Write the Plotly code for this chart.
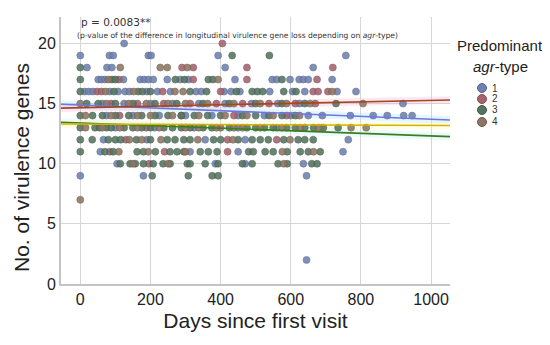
import plotly.graph_objects as go

# ---------------- data ----------------
# days since first visit, grouped by number of virulence genes, per predominant agr-type
agr1_points = {
    20: [125],
    19: [0, 83, 94, 194, 202, 393, 757],
    18: [19, 76, 90, 413, 664],
    17: [51, 60, 70, 123, 171, 182, 194, 208, 248, 285, 308, 441, 547, 560, 598, 624, 636, 650, 718],
    16: [12, 24, 36, 84, 108, 128, 140, 190, 220, 257, 330, 345, 410, 430, 455, 540, 605, 640, 732, 786],
    15: [63, 125, 200, 263, 338, 413, 488, 563, 625, 920],
    14: [75, 150, 225, 300, 375, 450, 525, 600, 650, 690, 770, 835, 875, 922, 946],
    13: [100, 212, 325, 450, 560],
    12: [66, 190, 356, 470, 764],
    11: [57, 313, 450, 749],
    10: [105, 385, 470, 636],
    9: [0, 180, 645],
    2: [645],
}
agr2_points = {
    20: [405],
    18: [290, 322, 475, 720],
    17: [110, 322, 475, 675],
    16: [48, 60, 235, 400, 664, 678, 706],
    15: [88, 163, 238, 313, 388, 463, 538, 613, 670],
    14: [112, 288, 438, 588],
    13: [188, 400],
    12: [130, 420, 560],
    11: [84, 240, 420],
    10: [196],
}
agr3_points = {
    19: [433, 539],
    18: [0],
    17: [0, 90, 100, 271, 297, 365, 378, 575],
    16: [0, 96, 165, 177, 200, 313, 360, 445, 490, 505, 520, 580, 615],
    15: [18, 51, 100, 150, 213, 275, 350, 425, 500, 575, 640, 729],
    14: [0, 35, 63, 100, 138, 175, 213, 250, 288, 325, 363, 400, 463, 500, 538, 575, 613],
    13: [0, 42, 55, 75, 88, 125, 150, 175, 200, 238, 263, 288, 313, 350, 375, 425, 475, 500,
         525, 550, 588, 613, 640, 665, 693, 735],
    12: [0, 34, 80, 100, 115, 160, 200, 248, 270, 295, 313, 380, 400, 450, 490, 513, 536, 580,
         621, 640, 664],
    11: [0, 70, 94, 162, 180, 214, 256, 276, 295, 342, 365, 390, 480, 493, 527, 550, 590, 627,
         650, 684],
    10: [114, 142, 157, 180, 208, 236, 256, 305, 313, 356, 393, 462, 490, 564, 590, 660, 675],
    9: [205, 308, 376, 393],
}
agr4_points = {
    18: [114, 228, 248, 305],
    17: [80, 393],
    16: [72, 152, 270, 293, 718],
    15: [0, 75, 138, 188, 250, 300, 363, 438, 513, 588, 655, 806],
    14: [15, 88, 163, 200, 263, 338, 413, 475, 550, 625],
    13: [15, 63, 113, 163, 225, 300, 338, 388, 438, 463, 513, 575, 627, 680, 772, 815],
    12: [140, 175, 230, 335, 435, 598],
    11: [110, 194, 300, 576, 665],
    10: [150, 250, 580],
    7: [0],
}

# fitted regression lines (value at the start and end of the day range)
fit_days = [-55, 1054]
agr1_fit = [14.95, 13.64]
agr2_fit = [14.62, 15.30]
agr3_fit = [13.45, 12.25]
agr4_fit = [13.30, 13.18]
band_halfwidth = [0.32, 0.32]

type_labels = ["1", "2", "3", "4"]
x_ticks = [0, 200, 400, 600, 800, 1000]
y_ticks = [0, 5, 10, 15, 20]

# ---------------- styling ----------------
OFF = 8  # browser default body margin
W, H = 550 - OFF, 345 - OFF
ML, MR, MT = 61 - OFF, 550 - 450, 17 - OFF
MB = H - (284 - OFF)
marker_colors = ["#6f80ad", "#a4636e", "#55745f", "#8d7663"]
marker_edges = ["#55668f", "#864a55", "#3f5a48", "#6e5a49"]
line_colors = ["#7374e4", "#9c4b22", "#3a7d1c", "#d2b400"]
band_colors = ["rgba(150,228,250,0.28)", "rgba(255,175,210,0.30)",
               "rgba(175,240,240,0.25)", "rgba(255,248,170,0.30)"]

all_points = [agr1_points, agr2_points, agr3_points, agr4_points]
all_fits = [agr1_fit, agr2_fit, agr3_fit, agr4_fit]

fig = go.Figure()

# confidence bands
for fit, bc in zip(all_fits, band_colors):
    upper = [v + h for v, h in zip(fit, band_halfwidth)]
    lower = [v - h for v, h in zip(fit, band_halfwidth)]
    fig.add_trace(go.Scatter(x=fit_days + fit_days[::-1], y=upper + lower[::-1],
                             fill="toself", fillcolor=bc, line=dict(width=0),
                             mode="lines", hoverinfo="skip", showlegend=False))

# scatter points
for pts, mc, me, lab in zip(all_points, marker_colors, marker_edges, type_labels):
    xs, ys = [], []
    for g, days in pts.items():
        for d in days:
            xs.append(d)
            ys.append(g)
    fig.add_trace(go.Scatter(x=xs, y=ys, mode="markers", name=lab,
                             marker=dict(size=7, color=mc, opacity=0.88,
                                         line=dict(width=0.6, color=me)),
                             showlegend=False))

# regression lines
for fit, lc in zip(all_fits, line_colors):
    fig.add_trace(go.Scatter(x=fit_days, y=fit, mode="lines",
                             line=dict(color=lc, width=1.6),
                             hoverinfo="skip", showlegend=False))

axis_font = dict(family="Liberation Sans, Arial, sans-serif", size=16, color="#222")
title_font = dict(family="Liberation Sans, Arial, sans-serif", size=21, color="#222")

fig.update_layout(
    width=W, height=H,
    margin=dict(l=ML, r=MR, t=MT, b=MB, autoexpand=False),
    paper_bgcolor="white", plot_bgcolor="white",
    showlegend=False,
    xaxis=dict(range=[-55, 1054], tickvals=x_ticks, ticktext=[str(v) for v in x_ticks],
               showgrid=True, gridcolor="#d6d6d6", gridwidth=1, zeroline=False,
               showline=True, linecolor="#c4c4c4", linewidth=2, automargin=False,
               ticks="", tickfont=axis_font,
               title=dict(text="Days since first visit", font=title_font, standoff=6)),
    yaxis=dict(range=[0, 22.2], tickvals=y_ticks, ticktext=[str(v) for v in y_ticks],
               showgrid=True, gridcolor="#d6d6d6", gridwidth=1, zeroline=False,
               showline=True, linecolor="#c4c4c4", linewidth=2, automargin=False,
               ticks="", tickfont=axis_font),
)

pw = W - ML - MR
ph = H - MT - MB


def px_x(px):
    return (px - OFF - ML) / pw


def px_y(py):
    return (H - MB - (py - OFF)) / ph


# y-axis title (placed as in the reference, slightly below the plot's centre)
fig.add_annotation(x=px_x(21), y=px_y(168), xref="paper", yref="paper",
                   xanchor="center", yanchor="middle", showarrow=False, textangle=-90,
                   text="No. of virulence genes", font=title_font)

ann_font = "DejaVu Sans, Verdana, sans-serif"
fig.add_annotation(x=px_x(79), y=px_y(22), xref="paper", yref="paper",
                   xanchor="left", yanchor="middle", showarrow=False,
                   text="p = 0.0083**", font=dict(family=ann_font, size=10.5, color="#333"))
fig.add_annotation(x=px_x(75), y=px_y(35), xref="paper", yref="paper",
                   xanchor="left", yanchor="middle", showarrow=False,
                   text="(p-value of the difference in longitudinal virulence gene loss depending on <i>agr</i>-type)",
                   font=dict(family=ann_font, size=7.6, color="#333"))

# legend (drawn manually)
leg_font = dict(family="Liberation Sans, Arial, sans-serif", size=15, color="#222")
fig.add_annotation(x=px_x(500), y=px_y(45), xref="paper", yref="paper",
                   xanchor="center", yanchor="middle", showarrow=False,
                   text="Predominant", font=leg_font)
fig.add_annotation(x=px_x(500), y=px_y(66), xref="paper", yref="paper",
                   xanchor="center", yanchor="middle", showarrow=False,
                   text="<i>agr</i>-type", font=leg_font)
leg_rows = [88, 99, 110, 122]
for lab, mc, me, ry in zip(type_labels, marker_colors, marker_edges, leg_rows):
    fig.add_shape(type="circle", xref="paper", yref="paper",
                  xsizemode="pixel", ysizemode="pixel",
                  xanchor=px_x(482), yanchor=px_y(ry), x0=-4.5, x1=4.5, y0=-4.5, y1=4.5,
                  fillcolor=mc, line=dict(color=me, width=1))
    fig.add_annotation(x=px_x(490), y=px_y(ry), xref="paper", yref="paper",
                       xanchor="left", yanchor="middle", showarrow=False,
                       text=lab, font=dict(family="Liberation Sans, Arial, sans-serif", size=10, color="#333"))

fig.write_html("out.html")
